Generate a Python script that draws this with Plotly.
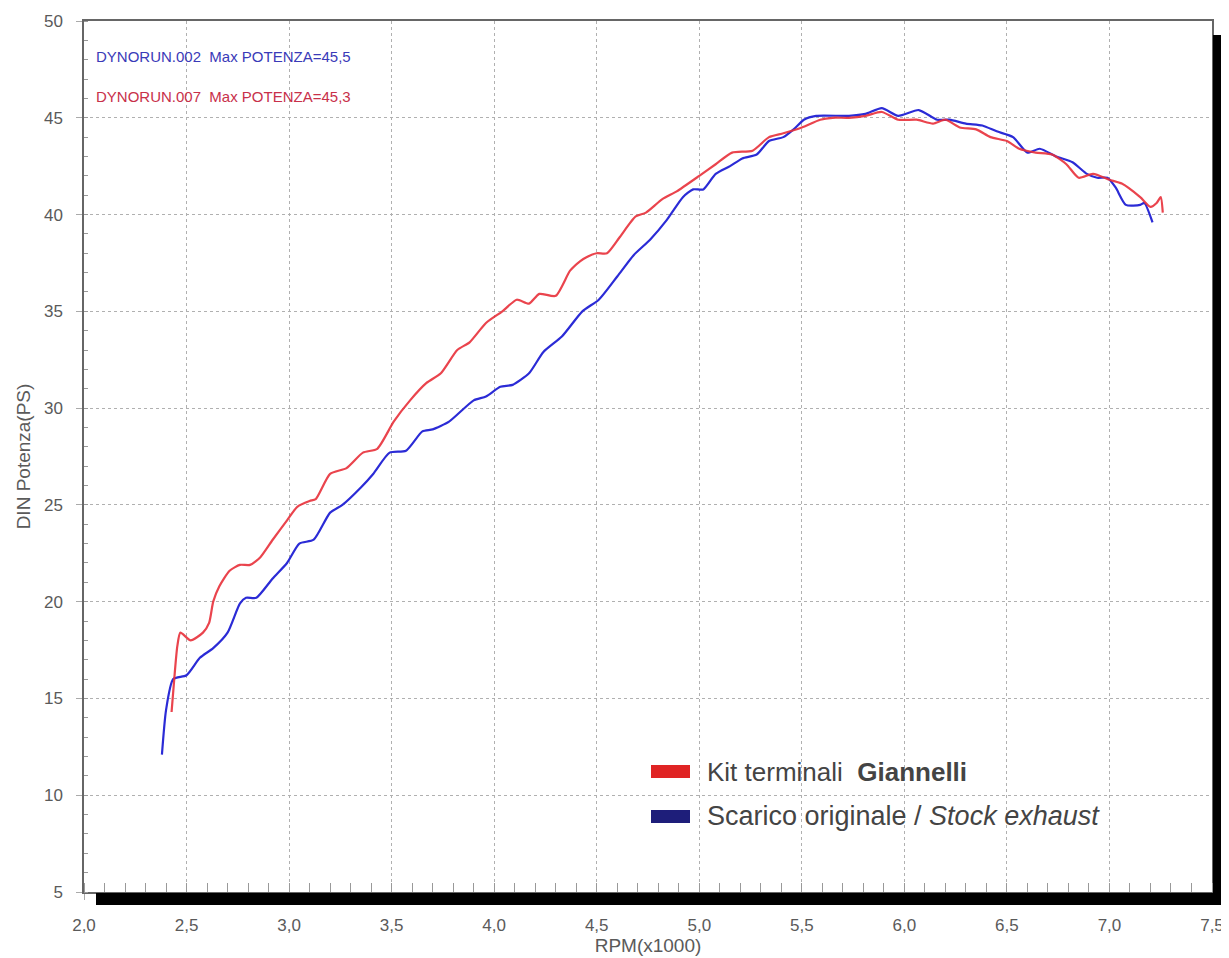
import plotly.graph_objects as go

# ---- data ----
rpm_kit = [2.427, 2.44, 2.455, 2.47, 2.52, 2.58, 2.61, 2.63, 2.66, 2.71, 2.76, 2.81, 2.86, 2.92,
           2.99, 3.04, 3.10, 3.13, 3.20, 3.28, 3.36, 3.43, 3.51, 3.59, 3.67, 3.74, 3.82, 3.88,
           3.96, 4.04, 4.11, 4.17, 4.22, 4.30, 4.37, 4.42, 4.45, 4.50, 4.55, 4.61, 4.69, 4.74,
           4.82, 4.89, 5.00, 5.08, 5.16, 5.26, 5.34, 5.41, 5.50, 5.59, 5.65, 5.73, 5.81, 5.89,
           5.97, 6.06, 6.14, 6.20, 6.27, 6.35, 6.42, 6.50, 6.56, 6.64, 6.72, 6.79, 6.85, 6.92,
           7.00, 7.06, 7.15, 7.20, 7.23, 7.25, 7.26]
ps_kit = [14.3, 16.0, 17.7, 18.4, 18.0, 18.4, 18.9, 20.0, 20.8, 21.6, 21.9, 21.9, 22.3, 23.2,
          24.2, 24.9, 25.2, 25.3, 26.6, 26.9, 27.7, 27.9, 29.3, 30.4, 31.3, 31.8, 33.0, 33.4,
          34.4, 35.0, 35.6, 35.4, 35.9, 35.8, 37.1, 37.6, 37.8, 38.0, 38.0, 38.8, 39.9, 40.1,
          40.8, 41.2, 42.0, 42.6, 43.2, 43.3, 44.0, 44.2, 44.5, 44.9, 45.0, 45.0, 45.1, 45.3,
          44.9, 44.9, 44.7, 44.9, 44.5, 44.4, 44.0, 43.8, 43.4, 43.2, 43.1, 42.6, 41.9, 42.1,
          41.8, 41.6, 40.9, 40.4, 40.6, 40.9, 40.1]

rpm_stock = [2.38, 2.40, 2.435, 2.50, 2.565, 2.63, 2.70, 2.76, 2.79, 2.84, 2.92, 2.99, 3.05,
             3.12, 3.20, 3.26, 3.35, 3.41, 3.49, 3.57, 3.65, 3.70, 3.78, 3.90, 3.96, 4.03, 4.09,
             4.17, 4.24, 4.33, 4.43, 4.51, 4.60, 4.68, 4.76, 4.84, 4.92, 4.97, 5.02, 5.08, 5.15,
             5.21, 5.28, 5.34, 5.41, 5.46, 5.51, 5.57, 5.73, 5.81, 5.89, 5.97, 6.07, 6.16, 6.22,
             6.30, 6.38, 6.45, 6.53, 6.60, 6.66, 6.74, 6.82, 6.89, 6.94, 6.99, 7.03, 7.08, 7.15,
             7.17, 7.21]
ps_stock = [12.1, 14.4, 16.0, 16.2, 17.1, 17.6, 18.4, 19.9, 20.2, 20.2, 21.2, 22.0, 23.0,
            23.2, 24.6, 25.0, 25.9, 26.6, 27.7, 27.8, 28.8, 28.9, 29.3, 30.4, 30.6, 31.1, 31.2,
            31.8, 32.9, 33.7, 35.0, 35.6, 36.8, 37.9, 38.7, 39.7, 40.9, 41.3, 41.3, 42.1, 42.5,
            42.9, 43.1, 43.8, 44.0, 44.4, 44.9, 45.1, 45.1, 45.2, 45.5, 45.1, 45.4, 44.9, 44.9,
            44.7, 44.6, 44.3, 44.0, 43.2, 43.4, 43.0, 42.7, 42.1, 41.9, 41.9, 41.4, 40.5, 40.5,
            40.6, 39.6]

legend_labels = ["Kit terminali  <b>Giannelli</b>", "Scarico originale / <i>Stock exhaust</i>"]
run_labels = ["DYNORUN.002  Max POTENZA=45,5", "DYNORUN.007  Max POTENZA=45,3"]

RED = "#e8303a"
BLUE = "#2b2bd6"
FONT = "Arial, Liberation Sans, sans-serif"

# page has an 8px body margin: figure is placed at (8,8)
W, H = 1221, 950
ML, MT, PW, PH = 76, 13, 1128, 871
MR = W - ML - PW
MB = H - MT - PH


def px(xp):  # page x -> paper x
    return (xp - 8 - ML) / PW


def py(yp):  # page y -> paper y
    return (MT + PH - (yp - 8)) / PH


fig = go.Figure()
fig.add_trace(go.Scatter(x=rpm_stock, y=ps_stock, mode="lines",
                         line=dict(color=BLUE, width=2.2, shape="spline", smoothing=0.6),
                         showlegend=False))
fig.add_trace(go.Scatter(x=rpm_kit, y=ps_kit, mode="lines",
                         line=dict(color=RED, width=2.2, shape="spline", smoothing=0.6),
                         opacity=0.9, showlegend=False))

# drop shadow
fig.add_shape(type="rect", xref="paper", yref="paper", x0=px(96), x1=px(1222), y0=py(905), y1=py(893),
              fillcolor="black", line=dict(width=0), layer="above")
fig.add_shape(type="rect", xref="paper", yref="paper", x0=px(1213), x1=px(1222), y0=py(905), y1=py(35),
              fillcolor="black", line=dict(width=0), layer="above")

# run labels
fig.add_annotation(xref="paper", yref="paper", x=px(94), y=py(56), xanchor="left", yanchor="middle",
                   text=run_labels[0], showarrow=False, font=dict(family=FONT, size=15, color="#3a3ab8"))
fig.add_annotation(xref="paper", yref="paper", x=px(94), y=py(96), xanchor="left", yanchor="middle",
                   text=run_labels[1], showarrow=False, font=dict(family=FONT, size=15, color="#c8304a"))

# custom legend
fig.add_shape(type="rect", xref="paper", yref="paper", x0=px(651), x1=px(690),
              y0=py(778), y1=py(765), fillcolor="#e02424", line=dict(width=0))
fig.add_shape(type="rect", xref="paper", yref="paper", x0=px(651), x1=px(690),
              y0=py(823), y1=py(810), fillcolor="#1e1e7a", line=dict(width=0))
fig.add_annotation(xref="paper", yref="paper", x=px(705), y=py(772), xanchor="left",
                   yanchor="middle", text=legend_labels[0], showarrow=False,
                   font=dict(family=FONT, size=26, color="#444444"))
fig.add_annotation(xref="paper", yref="paper", x=px(705), y=py(816), xanchor="left",
                   yanchor="middle", text=legend_labels[1], showarrow=False,
                   font=dict(family=FONT, size=27, color="#444444"))

fig.update_layout(
    width=W, height=H, autosize=False,
    margin=dict(l=ML, r=MR, t=MT, b=MB, pad=0, autoexpand=False),
    paper_bgcolor="white", plot_bgcolor="white",
    separators=",.",
    font=dict(family=FONT, size=17, color="#5a5a5a"),
    showlegend=False,
)
fig.update_xaxes(
    range=[2.0, 7.5], dtick=0.5, tick0=2.0, tickformat=".1f", automargin=False,
    showgrid=True, gridcolor="#b0b0b0", griddash="dot", gridwidth=1,
    showline=True, linecolor="#666666", linewidth=1.5, mirror=True,
    ticks="outside", ticklen=6, tickcolor="#aaaaaa", ticklabelstandoff=11,
    minor=dict(dtick=0.1, ticks="inside", ticklen=9, tickcolor="#999999", showgrid=False),
    zeroline=False,
    title=dict(text="RPM(x1000)", font=dict(size=19, color="#5a5a5a"), standoff=0),
)
fig.update_yaxes(
    range=[5, 50], dtick=5, tick0=5, automargin=False,
    showgrid=True, gridcolor="#b0b0b0", griddash="dot", gridwidth=1,
    showline=True, linecolor="#666666", linewidth=1.5, mirror=True,
    ticks="outside", ticklen=6, tickcolor="#aaaaaa", ticklabelstandoff=10,
    minor=dict(dtick=1, ticks="inside", ticklen=4, tickcolor="#999999", showgrid=False),
    zeroline=False,
    title=dict(text="DIN Potenza(PS)", font=dict(size=19, color="#5a5a5a"), standoff=8),
)

fig.write_html("out.html")
